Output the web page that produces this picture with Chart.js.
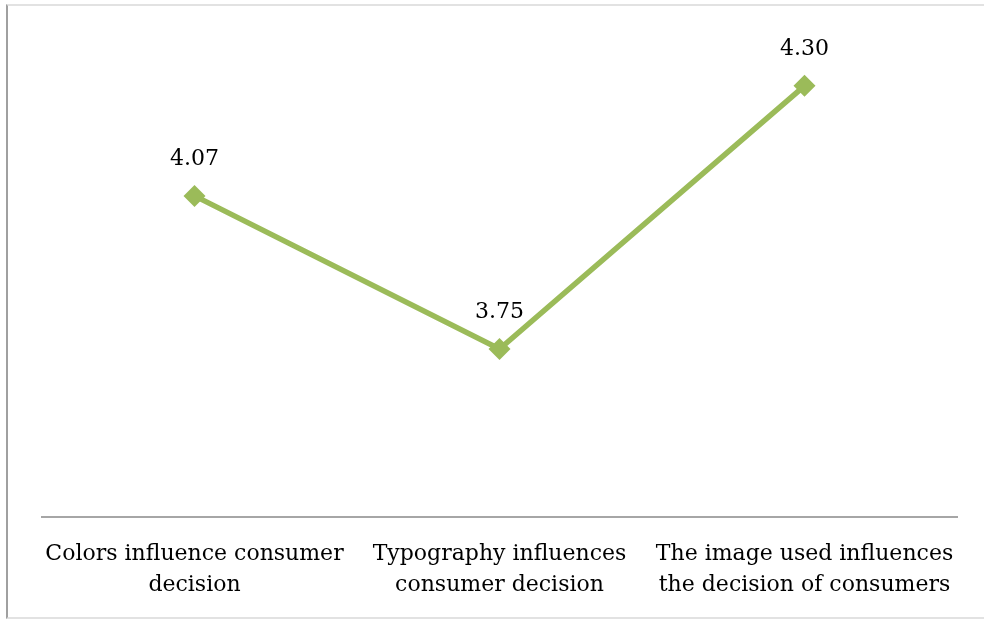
<!DOCTYPE html>
<html>
<head>
<meta charset="utf-8">
<script src="https://cdn.jsdelivr.net/npm/chart.js@4/dist/chart.umd.min.js"></script>
<style>
  html, body { margin: 0; padding: 0; background: #fff; }
  #wrap { position: relative; width: 984px; height: 619px; }
  #frame { position: absolute; left: 6px; top: 4px; width: 990px; height: 611px;
           border-left: 2px solid #a0a0a0; border-top: 2px solid #e2e2e2; border-bottom: 2px solid #e2e2e2; }
  canvas { position: absolute; left: 0; top: 0; }
</style>
</head>
<body>
<div id="wrap">
  <div id="frame"></div>
  <canvas id="chart" width="984" height="619"></canvas>
</div>
<script>
// categories and values
var categories = [
  ['Colors influence consumer', 'decision'],
  ['Typography influences', 'consumer decision'],
  ['The image used influences', 'the decision of consumers']
];
var scores = [4.07, 3.75, 4.30];
var yMin = 3.4;
var yMax = 4.4;

var green = '#9bbb59';
var serif = '"DejaVu Serif", "Liberation Serif", serif';

// little plugin for the value labels above each point
var valueLabels = {
  id: 'valueLabels',
  afterDatasetsDraw: function (chart) {
    var ctx = chart.ctx;
    var meta = chart.getDatasetMeta(0);
    ctx.save();
    ctx.font = '22px ' + serif;
    ctx.fillStyle = '#000';
    ctx.textAlign = 'center';
    ctx.textBaseline = 'middle';
    meta.data.forEach(function (pt, i) {
      ctx.fillText(scores[i].toFixed(2), pt.x, pt.y - 37);
    });
    ctx.restore();
  }
};

var ctx = document.getElementById('chart').getContext('2d');
var chart = new Chart(ctx, {
  type: 'line',
  data: {
    labels: categories,
    datasets: [{
      data: scores,
      borderColor: green,
      backgroundColor: green,
      borderWidth: 5.5,
      tension: 0,
      pointStyle: 'rectRot',
      pointRadius: 11,
      pointHoverRadius: 11,
      pointBorderWidth: 0
    }]
  },
  options: {
    responsive: false,
    animation: false,
    layout: { padding: { left: 42, right: 27, top: 38, bottom: -4 } },
    plugins: {
      legend: { display: false },
      tooltip: { enabled: false }
    },
    scales: {
      x: {
        offset: true,
        grid: { display: false, drawTicks: false },
        border: { display: true, color: '#a6a6a6', width: 2 },
        ticks: {
          color: '#000',
          padding: 22,
          maxRotation: 0,
          autoSkip: false,
          font: { family: serif, size: 22, lineHeight: 1.42 }
        }
      },
      y: {
        display: false,
        min: yMin,
        max: yMax
      }
    }
  },
  plugins: [valueLabels]
});
</script>
</body>
</html>
